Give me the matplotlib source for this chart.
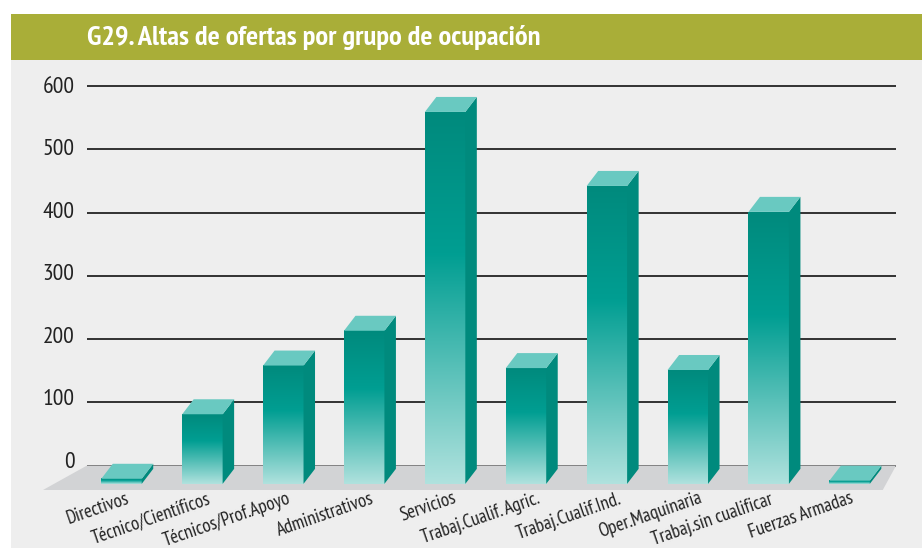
import numpy as np
import matplotlib
matplotlib.use("Agg")
import matplotlib.pyplot as plt
from matplotlib.colors import LinearSegmentedColormap
from matplotlib.patches import Polygon, Rectangle

plt.rcParams['font.family'] = ['PT Sans Narrow', 'Asap Condensed', 'DejaVu Sans']

categories = ["Directivos", "Técnico/Científicos", "Técnicos/Prof.Apoyo", "Administrativos",
              "Servicios", "Trabaj.Cualif. Agric.", "Trabaj.Cualif.Ind.", "Oper.Maquinaria",
              "Trabaj.sin cualificar", "Fuerzas Armadas"]
values = [8, 110, 187, 242, 588, 183, 471, 180, 430, 5]
y_ticks = [0, 100, 200, 300, 400, 500, 600]

# pixel layout of the picture
W, H = 922, 548
PANEL_LEFT, PANEL_TOP, BAND_H = 11, 14, 46
px_per_unit = 0.6325
px_per_cat = 80.9
y0_px = 465.5
x0_px = 121.5

fig = plt.figure(figsize=(W / 100, H / 100), dpi=100, facecolor="white")
ax = fig.add_axes([PANEL_LEFT / W, 0, 1 - PANEL_LEFT / W, 1 - (PANEL_TOP + BAND_H) / H])
ax.set_facecolor("#eeeeee")
ax.set_xticks([])
ax.set_yticks([])
for s in ax.spines.values():
    s.set_visible(False)

# green title band
fig.patches.append(Rectangle((PANEL_LEFT / W, 1 - (PANEL_TOP + BAND_H) / H), 1 - PANEL_LEFT / W, BAND_H / H,
                             transform=fig.transFigure, facecolor="#a9ae38", edgecolor="none"))
fig.text(87 / W, 1 - 37 / H, "G29. Altas de ofertas por grupo de ocupación", color="white",
         fontsize=20.5, fontweight="bold", ha="left", va="center")

# wall lines and floor
x_left, x_right = -0.426, 9.575
front_base = -29
depth_x = 11.5 / px_per_cat
depth_y = 15 / px_per_unit
half = 0.25

for t in y_ticks:
    ax.plot([x_left, x_right], [t, t], color="#111111", lw=1.2, zorder=1, solid_capstyle="butt")
    ax.text(-0.58, t * 0.988 + 5.5, str(t), ha="right", va="center", fontsize=17, color="#222222")

ax.add_patch(Polygon([(x_left, 0), (x_right, 0), (9.41, -38.7), (-0.97, -38.7)],
                     facecolor="#d2d3d5", edgecolor="none", zorder=2))

fade = LinearSegmentedColormap.from_list("fade", [(0, "#008a7d"), (0.38, "#009e92"), (1, "#b0e2de")])
grad = np.linspace(0, 1, 256).reshape(-1, 1)

label_shift = [4, 5, 4, 6, 8, 10, 11, 11, 0, 0]
for i, v in enumerate(values):
    top = front_base + v
    left, right = i - half, i + half
    ax.imshow(grad, cmap=fade, extent=(left, right, front_base, top), aspect="auto", zorder=3,
              interpolation="bilinear")
    ax.add_patch(Polygon([(right, front_base), (right + depth_x, front_base + depth_y),
                          (right + depth_x, top + depth_y), (right, top)],
                         facecolor="#008a7d", edgecolor="none", zorder=3))
    ax.add_patch(Polygon([(left, top), (right, top), (right + depth_x, top + depth_y),
                          (left + depth_x, top + depth_y)],
                         facecolor="#69c9c1", edgecolor="none", zorder=4))
    ax.text(i + label_shift[i] / px_per_cat, -37.5, categories[i], rotation=19, rotation_mode="anchor",
            ha="right", va="top", fontsize=13.6, color="#222222")

ax.set_xlim((PANEL_LEFT - x0_px) / px_per_cat, (W - x0_px) / px_per_cat)
ax.set_ylim((y0_px - H) / px_per_unit, (y0_px - PANEL_TOP - BAND_H) / px_per_unit)

fig.savefig("out.png", dpi=100)
